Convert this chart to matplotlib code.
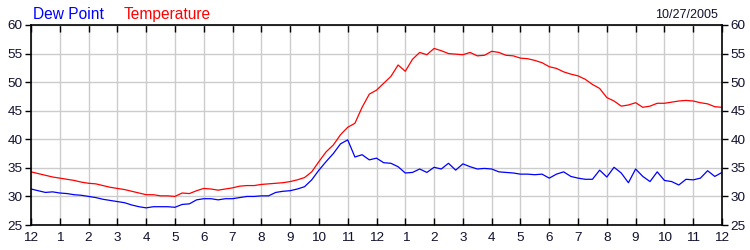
import numpy as np
import matplotlib
matplotlib.use("Agg")
import matplotlib.pyplot as plt

plt.rcParams['font.family'] = ['Liberation Sans', 'DejaVu Sans']

# readings every 15 minutes, midnight to midnight
hours = np.arange(0, 24.01, 0.25)

temperature = [
    34.3, 34.0, 33.7, 33.4, 33.2, 33.0, 32.8, 32.5,   # 0-2
    32.3, 32.2, 31.9, 31.6, 31.4, 31.2, 30.9, 30.6,   # 2-4
    30.3, 30.3, 30.1, 30.1, 30.0, 30.6, 30.5, 31.0,   # 4-6
    31.4, 31.3, 31.1, 31.3, 31.5, 31.8, 31.9, 31.9,   # 6-8
    32.1, 32.2, 32.3, 32.4, 32.6, 32.9, 33.3, 34.3,   # 8-10
    36.1, 37.8, 39.0, 40.8, 42.1, 42.8, 45.6, 47.9,   # 10-12
    48.6, 49.8, 51.0, 53.0, 51.9, 54.0, 55.2, 54.8,   # 12-14
    55.9, 55.5, 55.0, 54.9, 54.8, 55.2, 54.6, 54.7,   # 14-16
    55.4, 55.2, 54.7, 54.6, 54.2, 54.1, 53.8, 53.4,   # 16-18
    52.7, 52.4, 51.8, 51.4, 51.1, 50.5, 49.6, 48.9,   # 18-20
    47.3, 46.7, 45.8, 46.0, 46.4, 45.6, 45.8, 46.3,   # 20-22
    46.3, 46.5, 46.7, 46.8, 46.7, 46.4, 46.2, 45.7,   # 22-24
    45.6,
]

dew_point = [
    31.3, 31.0, 30.7, 30.8, 30.6, 30.5, 30.3, 30.2,
    30.0, 29.8, 29.5, 29.3, 29.1, 28.9, 28.5, 28.2,
    28.0, 28.2, 28.2, 28.2, 28.1, 28.6, 28.7, 29.4,
    29.6, 29.6, 29.4, 29.6, 29.6, 29.8, 30.0, 30.0,
    30.1, 30.1, 30.7, 30.9, 31.0, 31.3, 31.7, 32.9,
    34.6, 36.1, 37.5, 39.2, 39.9, 36.9, 37.3, 36.4,
    36.7, 35.9, 35.8, 35.2, 34.1, 34.2, 34.8, 34.2,
    35.1, 34.8, 35.8, 34.6, 35.7, 35.2, 34.8, 34.9,
    34.8, 34.3, 34.2, 34.1, 33.9, 33.9, 33.8, 33.9,
    33.2, 33.9, 34.3, 33.5, 33.2, 33.0, 33.0, 34.6,
    33.4, 35.1, 34.1, 32.4, 34.8, 33.5, 32.6, 34.3,
    32.8, 32.6, 32.0, 33.0, 32.9, 33.2, 34.5, 33.5,
    34.2,
]

hour_labels = ['12', '1', '2', '3', '4', '5', '6', '7', '8', '9', '10', '11',
               '12', '1', '2', '3', '4', '5', '6', '7', '8', '9', '10', '11', '12']
y_ticks = [25, 30, 35, 40, 45, 50, 55, 60]

fig = plt.figure(figsize=(7.5, 2.5), dpi=100)
ax = fig.add_axes([31/750, 0.1, (722-31)/750, 0.8])

ax.plot(hours, temperature, color='#ff0000', lw=0.9)
ax.plot(hours, dew_point, color='#0000ff', lw=0.9)

ax.set_xlim(0, 24)
ax.set_ylim(25, 60)
ax.set_xticks(range(25))
ax.set_xticklabels(hour_labels)
ax.set_yticks(y_ticks)
ax.grid(True, color='#cccccc', lw=1.0)
ax.set_axisbelow(True)

tick_col = '#101030'
ax.tick_params(axis='x', direction='in', top=True, bottom=True, length=5,
               width=1.0, pad=5, labelsize=9.7, labelcolor=tick_col)
ax.tick_params(axis='y', direction='out', left=True, right=True, labelright=True,
               length=4, width=1.0, pad=2, labelsize=9.7, labelcolor=tick_col)
for s in ax.spines.values():
    s.set_linewidth(1.2)
    s.set_color('black')

fig.text(33/750, 1 - 19/250, 'Dew Point', color='#0000ff', fontsize=11.2)
fig.text(124/750, 1 - 19/250, 'Temperature', color='#ff0000', fontsize=11.2)
fig.text(718/750, 1 - 18/250, '10/27/2005', color=tick_col, fontsize=9, ha='right')

fig.savefig('out.png', dpi=100)
